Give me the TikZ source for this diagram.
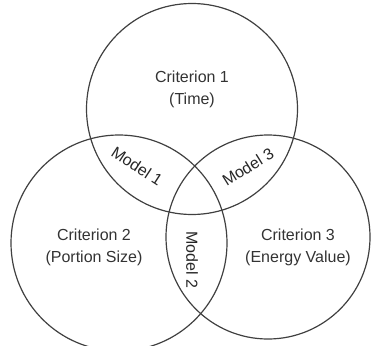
\documentclass[tikz,border=0pt]{standalone}
\usepackage{fontspec}
\setmainfont{Liberation Sans}
\begin{document}
\begin{tikzpicture}[x=1pt,y=-1pt,
  ring/.style={circle,draw=black!75,line width=1.2pt,inner sep=0pt},
  lbl/.style={font=\fontsize{16}{22}\selectfont,text=black!80,align=center,inner sep=0pt},
  mdl/.style={font=\fontsize{16}{20}\selectfont,text=black!85,inner sep=0pt}]
\useasboundingbox (0,0) rectangle (371,345);
\node[ring,minimum size=211pt] (c1) at (192,109) {};
\node[ring,minimum size=216pt] (c2) at (119,243) {};
\node[ring,minimum size=204pt] (c3) at (268,237) {};
\node[lbl] (t1) at (192,89) {Criterion 1\\(Time)};
\node[lbl] (t2) at (94,247) {Criterion 2\\(Portion Size)};
\node[lbl] (t3) at (298,247) {Criterion 3\\(Energy Value)};
\node[mdl,rotate=-33] (m1) at (137,166) {Model 1};
\node[mdl,rotate=32] (m3) at (248,167) {Model 3};
\node[mdl,rotate=-90] (m2) at (192,260) {Model 2};
\end{tikzpicture}
\end{document}
